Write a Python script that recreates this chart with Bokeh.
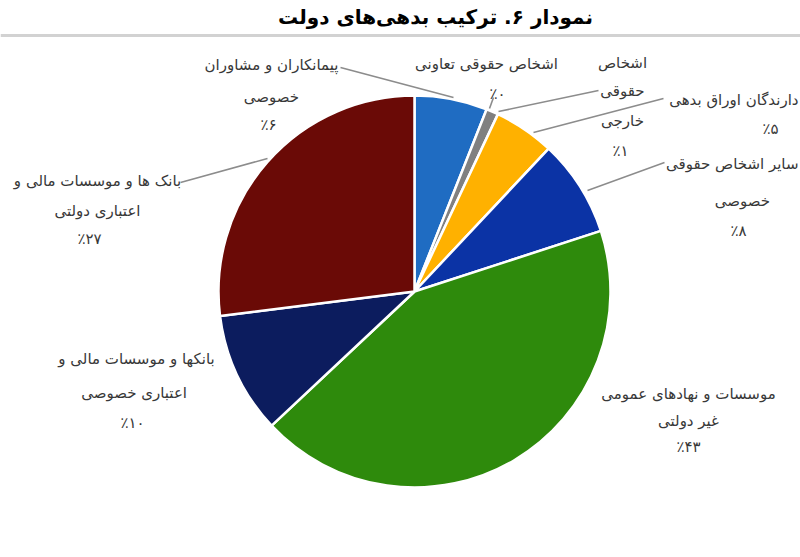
import math
from bokeh.plotting import figure
from bokeh.models import ColumnDataSource, Range1d
from bokeh.core.properties import value
from bokeh.embed import file_html
from bokeh.resources import INLINE

# ---- data ----
title_text = "نمودار ۶. ترکیب بدهی‌های دولت"
categories = [
    "پیمانکاران و مشاوران\nخصوصی",
    "اشخاص حقوقی تعاونی",
    "اشخاص\nحقوقی\nخارجی",
    "دارندگان اوراق بدهی",
    "سایر اشخاص حقوقی\nخصوصی",
    "موسسات و نهادهای عمومی\nغیر دولتی",
    "بانکها و موسسات مالی و\nاعتباری  خصوصی",
    "بانک ها و موسسات مالی و\nاعتباری دولتی",
]
values = [6, 0, 1, 5, 8, 43, 10, 27]
colors = ["#1F6CC2", "#D9D9D9", "#808080", "#FFB100", "#0B33A5", "#2E8A0C", "#0C1C5E", "#6A0A06"]

# ---- layout (image pixel coordinates, y measured from the top) ----
W, H = 800, 557
CX, CY, R = 414, 291, 196
label_x = [271, 486, 622, 798, 798, 688, 136, 97]
label_align = ["center", "center", "center", "right", "right", "center", "center", "center"]
label_ys = [
    [64, 96, 124],
    [63, 93],
    [62, 90, 120, 150],
    [99, 128],
    [163, 200, 230],
    [393, 420, 446],
    [358, 392, 422],
    [180, 210, 238],
]
pct_x = [268, 497, 620, 770, 738, 688, 132, 89]
sub_x = {4: 742}
leaders = [
    [(340, 67), (453, 97)],
    [(493, 97), (489, 108)],
    [(598, 90), (498, 111)],
    [(663, 98), (533, 132)],
    [(664, 162), (587, 190)],
    None,
    None,
    [(180, 182), (267, 158)],
]


def Y(img_y):
    return H - img_y


fa_digits = str.maketrans("0123456789", "۰۱۲۳۴۵۶۷۸۹")

p = figure(width=W, height=H, x_range=Range1d(0, W), y_range=Range1d(0, H),
           output_backend="svg", toolbar_location=None, min_border=0,
           x_axis_type=None, y_axis_type=None)
p.grid.visible = False
p.outline_line_color = None
p.background_fill_color = "white"

# pie wedges (slices with a zero share are not drawn)
total = float(sum(values))
ws, we, wc = [], [], []
cum = 0.0
for v, c in zip(values, colors):
    a0 = math.pi / 2 - 2 * math.pi * cum / total
    cum += v
    a1 = math.pi / 2 - 2 * math.pi * cum / total
    if v > 0:
        ws.append(a0)
        we.append(a1)
        wc.append(c)
src = ColumnDataSource(dict(start=ws, end=we, color=wc))
p.wedge(x=CX, y=Y(CY), radius=R, start_angle="start", end_angle="end", direction="clock",
        fill_color="color", line_color="white", line_width=2.5, source=src)

# title rule
p.line(x=[0, W], y=[Y(35), Y(35)], line_color="#D2D2D2", line_width=3)

# title
p.text(x=[435], y=[Y(16)], text=[title_text], text_align="center", text_baseline="middle",
       text_font=value("DejaVu Sans"), text_font_size="20px", text_font_style="bold",
       text_color="#000000")

# leader lines
lx, ly = [], []
for seg in leaders:
    if seg is None:
        continue
    lx.append([pt[0] for pt in seg])
    ly.append([Y(pt[1]) for pt in seg])
p.multi_line(xs=lx, ys=ly, line_color="#8C8C8C", line_width=1.6)

# labels
tx, ty, tt, ta = [], [], [], []
for i, name in enumerate(categories):
    lines = name.split("\n") + ["٪" + str(values[i]).translate(fa_digits)]
    for j, line in enumerate(lines):
        if j == len(lines) - 1:
            x, al = pct_x[i], "center"
        elif j == 0:
            x, al = label_x[i], label_align[i]
        else:
            x, al = sub_x.get(i, label_x[i]), "center"
        tx.append(x)
        ty.append(Y(label_ys[i][j]))
        tt.append(line)
        ta.append(al)
lsrc = ColumnDataSource(dict(x=tx, y=ty, text=tt, align=ta))
p.text(x="x", y="y", text="text", text_align="align", text_baseline="middle",
       text_font=value("DejaVu Sans"), text_font_size="15px", text_color="#383838",
       source=lsrc)

open("out.html", "w").write(file_html(p, INLINE))
